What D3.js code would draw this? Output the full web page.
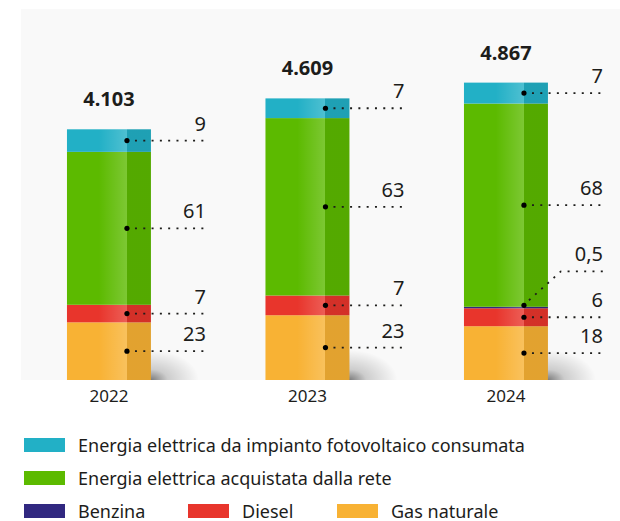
<!DOCTYPE html>
<html>
<head>
<meta charset="utf-8">
<script src="https://cdn.jsdelivr.net/npm/d3@7"></script>
<style>
  body { margin: 0; background: #fff; }
  svg { display: block; font-family: "Noto Sans", sans-serif; }
  .panel { fill: #f9f9f9; }
  .total { font-weight: bold; font-size: 20px; fill: #1d1d1b; text-anchor: middle; }
  .valueLabel { font-size: 20px; fill: #1d1d1b; text-anchor: end; }
  .yearLabel { font-size: 17px; fill: #1d1d1b; text-anchor: middle; }
  .legendText { font-size: 18px; fill: #1d1d1b; }
  .leader { stroke: #1d1d1b; stroke-width: 1.8; stroke-dasharray: 2 6.3; fill: none; }
</style>
</head>
<body>
<svg id="chart" width="620" height="521"></svg>
<script>
// data
const years = ['2022', '2023', '2024']
const totals = [4103, 4609, 4867]

const seriesNames = ['Gas naturale', 'Diesel', 'Benzina',
    'Energia elettrica acquistata dalla rete',
    'Energia elettrica da impianto fotovoltaico consumata']
const seriesColors = ['#f8b234', '#e8352c', '#312880', '#5cba00', '#22b0c6']

// percentages, bottom to top
const gasNaturale = [23, 23, 18]
const diesel = [7, 7, 6]
const benzina = [0, 0, 0.5]
const reteElettrica = [61, 63, 68]
const fotovoltaico = [9, 7, 7]

const percentages = [gasNaturale, diesel, benzina, reteElettrica, fotovoltaico]

const it = d3.formatLocale({ decimal: ',', thousands: '.', grouping: [3], currency: ['€', ''] })
const fmtTotal = it.format(',d')
const fmtPct = v => it.format(',')(v)

const baseY = 380
const xScale = d3.scaleBand().domain(years).range([9.7, 605.2]).paddingInner(0.577).paddingOuter(0.2885)
const yScale = d3.scaleLinear().domain([0, 5000]).range([baseY, baseY - 5 * 61.1])

// build stacked segments
const segments = []
years.forEach((year, i) => {
    const sum = d3.sum(percentages, s => s[i])
    let acc = 0
    percentages.forEach((s, k) => {
        const v = totals[i] * s[i] / sum
        segments.push({ year, k, pct: s[i], y0: acc, y1: acc + v })
        acc += v
    })
})

const svg = d3.select('#chart')
const defs = svg.append('defs')

const shade = defs.append('linearGradient').attr('id', 'shade')
    .attr('x1', 0).attr('x2', 1).attr('y1', 0).attr('y2', 0)
shade.append('stop').attr('offset', 0).attr('stop-color', '#fff').attr('stop-opacity', 0)
shade.append('stop').attr('offset', 0.38).attr('stop-color', '#fff').attr('stop-opacity', 0)
shade.append('stop').attr('offset', 0.71).attr('stop-color', '#fff').attr('stop-opacity', 0.2)
shade.append('stop').attr('offset', 0.715).attr('stop-color', '#000').attr('stop-opacity', 0.09)
shade.append('stop').attr('offset', 1).attr('stop-color', '#000').attr('stop-opacity', 0.09)

const shadow = defs.append('radialGradient').attr('id', 'shadow')
shadow.append('stop').attr('offset', 0).attr('stop-color', '#000').attr('stop-opacity', 0.5)
shadow.append('stop').attr('offset', 0.35).attr('stop-color', '#000').attr('stop-opacity', 0.18)
shadow.append('stop').attr('offset', 1).attr('stop-color', '#000').attr('stop-opacity', 0)

defs.append('clipPath').attr('id', 'panelClip')
    .append('rect').attr('x', 21).attr('y', 9).attr('width', 599).attr('height', baseY - 9)

svg.append('rect').classed('panel', true)
    .attr('x', 21).attr('y', 9).attr('width', 599).attr('height', baseY - 9)

// shadows
svg.append('g').attr('clip-path', 'url(#panelClip)')
    .selectAll('.shadow')
    .data(years)
    .enter()
    .append('ellipse')
    .attr('cx', d => xScale(d) + xScale.bandwidth())
    .attr('cy', baseY)
    .attr('rx', 48)
    .attr('ry', 30)
    .attr('fill', 'url(#shadow)')

// bars
svg.selectAll('.seg')
    .data(segments.filter(d => d.pct > 0))
    .enter()
    .append('rect')
    .classed('seg', true)
    .attr('x', d => xScale(d.year))
    .attr('width', xScale.bandwidth())
    .attr('y', d => yScale(d.y1))
    .attr('height', d => yScale(d.y0) - yScale(d.y1))
    .attr('fill', d => seriesColors[d.k])

svg.selectAll('.barShade')
    .data(years)
    .enter()
    .append('rect')
    .attr('x', d => xScale(d))
    .attr('width', xScale.bandwidth())
    .attr('y', (d, i) => yScale(totals[i]))
    .attr('height', (d, i) => baseY - yScale(totals[i]))
    .attr('fill', 'url(#shade)')

// totals
svg.selectAll('.total')
    .data(years)
    .enter()
    .append('text')
    .classed('total', true)
    .attr('x', d => xScale(d) + xScale.bandwidth() / 2)
    .attr('y', (d, i) => yScale(totals[i]) - 23)
    .text((d, i) => fmtTotal(totals[i]))

// value labels with dotted leaders
const dotOffset = 60
const labelled = segments.filter(d => d.pct > 0)
labelled.forEach(d => {
    const dx = xScale(d.year) + dotOffset
    const ym = (yScale(d.y0) + yScale(d.y1)) / 2
    const small = d.pct < 1
    const dy = small ? yScale(d.y1) - 1.5 : ym
    const ly = small ? dy - 34 : dy
    const path = small
        ? `M${dx + 5},${dy - 5}L${dx + 37},${ly}L${dx + 79},${ly}`
        : `M${dx + 8},${ly}L${dx + 78},${ly}`
    svg.append('path').classed('leader', true).attr('d', path)
    svg.append('circle').attr('cx', dx).attr('cy', dy).attr('r', 2.6).attr('fill', '#000')
    svg.append('text').classed('valueLabel', true)
        .attr('x', dx + 79)
        .attr('y', ly - 10)
        .text(fmtPct(d.pct))
})

// x axis labels
svg.selectAll('.yearLabel')
    .data(years)
    .enter()
    .append('text')
    .classed('yearLabel', true)
    .attr('x', d => xScale(d) + xScale.bandwidth() / 2)
    .attr('y', 402)
    .text(d => d)

// legend
const legendItems = [
    { k: 4, x: 24, y: 438 },
    { k: 3, x: 24, y: 471 },
    { k: 2, x: 24, y: 504 },
    { k: 1, x: 188, y: 504 },
    { k: 0, x: 337, y: 504 }
]
const legend = svg.selectAll('.legendItem')
    .data(legendItems)
    .enter()
    .append('g')
    .attr('transform', d => `translate(${d.x},${d.y})`)
legend.append('rect')
    .attr('width', 41).attr('height', 14)
    .attr('fill', d => seriesColors[d.k])
legend.append('text')
    .classed('legendText', true)
    .attr('x', 54)
    .attr('y', 13.5)
    .text(d => seriesNames[d.k])
</script>
</body>
</html>
